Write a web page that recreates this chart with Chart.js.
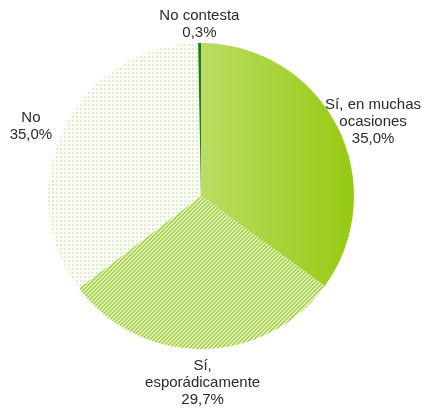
<!DOCTYPE html>
<html>
<head>
<meta charset="utf-8">
<script src="https://cdn.jsdelivr.net/npm/chart.js@4"></script>
<style>
  html, body { margin: 0; padding: 0; background: #fff; }
  #wrap { width: 422px; height: 409px; }
</style>
</head>
<body>
<div id="wrap"><canvas id="pie-chart" width="422" height="409"></canvas></div>
<script>
// Data
const categories = ['Sí, en muchas ocasiones', 'Sí, esporádicamente', 'No', 'No contesta'];
const values = [35.0, 29.7, 35.0, 0.3];
// How each category label wraps
const labelLines = [['Sí, en muchas', 'ocasiones'], ['Sí,', 'esporádicamente'], ['No'], ['No contesta']];

// Small repeating patterns for the textured slices
function makePattern(draw) {
  const c = document.createElement('canvas');
  c.width = 4;
  c.height = 4;
  draw(c.getContext('2d'));
  return c.getContext('2d').createPattern(c, 'repeat');
}

const hatch = makePattern(g => {
  g.fillStyle = '#e2f1c4';
  g.fillRect(0, 0, 4, 4);
  g.fillStyle = '#a8d345';
  for (let x = 0; x < 4; x++) {
    for (let y = 0; y < 4; y++) {
      if ((x + y) % 4 < 2) g.fillRect(x, y, 1, 1);
    }
  }
});

const dots = makePattern(g => {
  g.fillStyle = '#fbfdf7';
  g.fillRect(0, 0, 4, 4);
  g.fillStyle = '#dfedcb';
  g.fillRect(0, 0, 2, 2);
});

// Solid slice gets a horizontal gradient, the others their patterns
function sliceFill(ctx) {
  const i = ctx.dataIndex;
  if (i === 1) return hatch;
  if (i === 2) return dots;
  if (i === 3) return '#1f7a1c';
  const area = ctx.chart.chartArea;
  if (!area) return '#a6d234';
  const cx = (area.left + area.right) / 2;
  const g = ctx.chart.ctx.createLinearGradient(cx, 0, area.right, 0);
  g.addColorStop(0, '#badd63');
  g.addColorStop(1, '#96ca12');
  return g;
}

// Draws the labels outside the pie, along each slice's middle angle
const outsideLabels = {
  id: 'outsideLabels',
  afterDatasetsDraw(chart) {
    const ctx = chart.ctx;
    const meta = chart.getDatasetMeta(0);
    const lineH = 17;
    ctx.save();
    ctx.font = '15px "Liberation Sans", Arial, sans-serif';
    ctx.fillStyle = '#2a2a2a';
    ctx.textAlign = 'center';
    ctx.textBaseline = 'middle';
    meta.data.forEach((arc, i) => {
      const p = arc.getProps(['x', 'y', 'startAngle', 'endAngle', 'outerRadius'], true);
      const mid = (p.startAngle + p.endAngle) / 2;
      const dx = Math.cos(mid), dy = Math.sin(mid);
      const lines = labelLines[i].concat([values[i].toFixed(1).replace('.', ',') + '%']);
      let w = 0;
      lines.forEach(l => { w = Math.max(w, ctx.measureText(l).width); });
      const h = lines.length * lineH;
      let cx = p.x + dx * (p.outerRadius + 17 + Math.abs(dx) * w / 2);
      const cy = p.y + dy * (p.outerRadius + 5 + Math.abs(dy) * h / 2) + 3;
      cx = Math.min(Math.max(cx, w / 2 + 1), chart.width - w / 2 - 1);
      lines.forEach((l, k) => {
        ctx.fillText(l, cx, cy - h / 2 + lineH / 2 + k * lineH);
      });
    });
    ctx.restore();
  }
};

const data = {
  labels: categories,
  datasets: [{
    data: values,
    backgroundColor: sliceFill,
    borderWidth: 0
  }]
};

const config = {
  type: 'pie',
  data: data,
  options: {
    responsive: false,
    animation: false,
    layout: {
      padding: { left: 48, right: 68, top: 43, bottom: 60 }
    },
    plugins: {
      legend: { display: false },
      tooltip: { enabled: false }
    }
  },
  plugins: [outsideLabels]
};

new Chart(document.getElementById('pie-chart'), config);
</script>
</body>
</html>
